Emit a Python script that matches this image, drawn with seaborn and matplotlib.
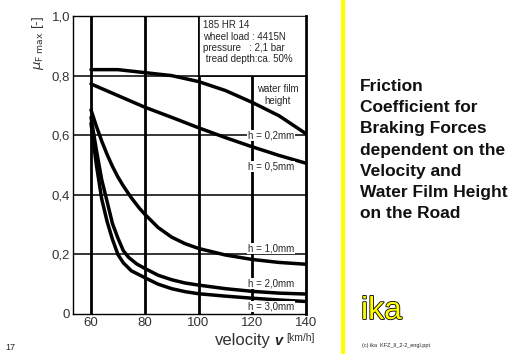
import pandas as pd
import matplotlib
matplotlib.use("Agg")
import matplotlib.pyplot as plt
import matplotlib.patheffects as pe
import seaborn as sns

# velocity [km/h] and max friction coefficient for each water film height
v_02 = [60, 70, 80, 90, 100, 110, 120, 130, 140]
mu_02 = [0.82, 0.82, 0.81, 0.80, 0.78, 0.75, 0.71, 0.665, 0.605]

v_05 = [60, 70, 80, 90, 100, 110, 120, 130, 140]
mu_05 = [0.772, 0.733, 0.694, 0.66, 0.625, 0.592, 0.561, 0.532, 0.506]

v_10 = [60, 62, 64, 66, 68, 70, 72, 75, 78, 80, 85, 90, 95, 100, 110, 120, 130, 140]
mu_10 = [0.685, 0.63, 0.58, 0.535, 0.495, 0.46, 0.43, 0.39, 0.355, 0.335, 0.29, 0.258,
         0.236, 0.22, 0.198, 0.183, 0.173, 0.167]

v_20 = [60, 62, 64, 66, 68, 70, 72, 74, 77, 80, 85, 90, 95, 100, 110, 120, 130, 140]
mu_20 = [0.66, 0.55, 0.45, 0.377, 0.303, 0.255, 0.213, 0.19, 0.168, 0.153, 0.13, 0.115,
         0.104, 0.097, 0.085, 0.076, 0.07, 0.067]

v_30 = [60, 62, 64, 66, 68, 70, 72, 75, 80, 85, 90, 95, 100, 110, 120, 130, 140]
mu_30 = [0.64, 0.5, 0.385, 0.31, 0.25, 0.2, 0.172, 0.145, 0.122, 0.1, 0.085, 0.075,
         0.068, 0.06, 0.053, 0.047, 0.042]

heights = ["h = 0,2mm", "h = 0,5mm", "h = 1,0mm", "h = 2,0mm", "h = 3,0mm"]
label_y = [0.6, 0.495, 0.22, 0.102, 0.025]

frames = []
for h, v, mu in zip(heights, [v_02, v_05, v_10, v_20, v_30],
                    [mu_02, mu_05, mu_10, mu_20, mu_30]):
    frames.append(pd.DataFrame({"velocity": v, "mu": mu, "h": h}))
df = pd.concat(frames, ignore_index=True)

sns.set_style("white")
plt.rcParams["font.family"] = ["Liberation Sans", "DejaVu Sans"]

fig = plt.figure(figsize=(5.12, 3.54), dpi=100)
ax = fig.add_axes([73 / 512, 40 / 354, 233 / 512, 298 / 354])

# grid: thick verticals, thinner horizontals
for x in [60, 80, 100, 120]:
    ax.axvline(x, color="black", lw=2.0, zorder=1)
for y in [0.2, 0.4, 0.6, 0.8]:
    ax.axhline(y, color="black", lw=1.1, zorder=1)

sns.lineplot(data=df, x="velocity", y="mu", hue="h", palette=["black"] * 5,
             legend=False, lw=2.5, ax=ax, zorder=3)

ax.set_xlim(53.3, 140)
ax.set_ylim(0, 1.0)
ax.set_xticks([60, 80, 100, 120, 140])
ax.set_yticks([0, 0.2, 0.4, 0.6, 0.8, 1.0])
ax.set_yticklabels(["0", "0,2", "0,4", "0,6", "0,8", "1,0"])
ax.tick_params(length=0, labelsize=9.5, labelcolor="#333333", pad=2)
ax.set_xlabel("")
ax.set_ylabel(r"$\mu_{\mathrm{F\ max}}$ [-]", loc="top", fontsize=9.5,
              color="#333333", labelpad=4)
for s in ["left", "top", "bottom"]:
    ax.spines[s].set_linewidth(1.0)
    ax.spines[s].set_color("black")
ax.spines["right"].set_linewidth(2.0)
ax.spines["right"].set_color("black")

# info box
ax.add_patch(plt.Rectangle((100, 0.8), 40, 0.2, facecolor="white",
                           edgecolor="black", lw=1.2, zorder=4))
ax.text(101.5, 0.985, "185 HR 14\nwheel load : 4415N\npressure   : 2,1 bar\n tread depth:ca. 50%",
        fontsize=7, va="top", ha="left", linespacing=1.15, zorder=5)

ax.text(129.5, 0.735, "water film\nheight", fontsize=7, ha="center", va="center",
        linespacing=1.3, zorder=5)

for h, y in zip(heights, label_y):
    ax.text(118.4, y, h, fontsize=7, ha="left", va="center", zorder=5,
            bbox=dict(facecolor="white", edgecolor="none", pad=0.5))

# x label
fig.text(215 / 512, 1 - 340 / 354, "velocity", fontsize=12, ha="left", va="center",
         color="#333333")
fig.text(278 / 512, 1 - 341 / 354, "v", fontsize=10.5, ha="center", va="center",
         fontweight="bold", style="italic")
fig.text(286 / 512, 1 - 338 / 354, "[km/h]", fontsize=7.5, ha="left", va="center",
         color="#333333")

fig.text(5 / 512, 1 - 347 / 354, "17", fontsize=6.5, ha="left", va="center")

# yellow divider
fig.add_artist(plt.Line2D([343 / 512, 343 / 512], [0, 1], color="#ffff00", lw=3))

fig.text(360 / 512, 1 - 79 / 354,
         "Friction\nCoefficient for\nBraking Forces\ndependent on the\nVelocity and\nWater Film Height\non the Road",
         fontsize=12.5, fontweight="bold", ha="left", va="top", linespacing=1.52,
         color="#111111")

fig.text(361 / 512, 1 - 311 / 354, "ika", fontsize=23, color="#ffff00", ha="left",
         va="center", path_effects=[pe.withStroke(linewidth=1.2, foreground="black")])
fig.text(362 / 512, 1 - 345 / 354, "(c) ika  KFZ_II_2-2_engl.ppt", fontsize=4,
         ha="left", va="center")

fig.savefig("out.png", dpi=100)
